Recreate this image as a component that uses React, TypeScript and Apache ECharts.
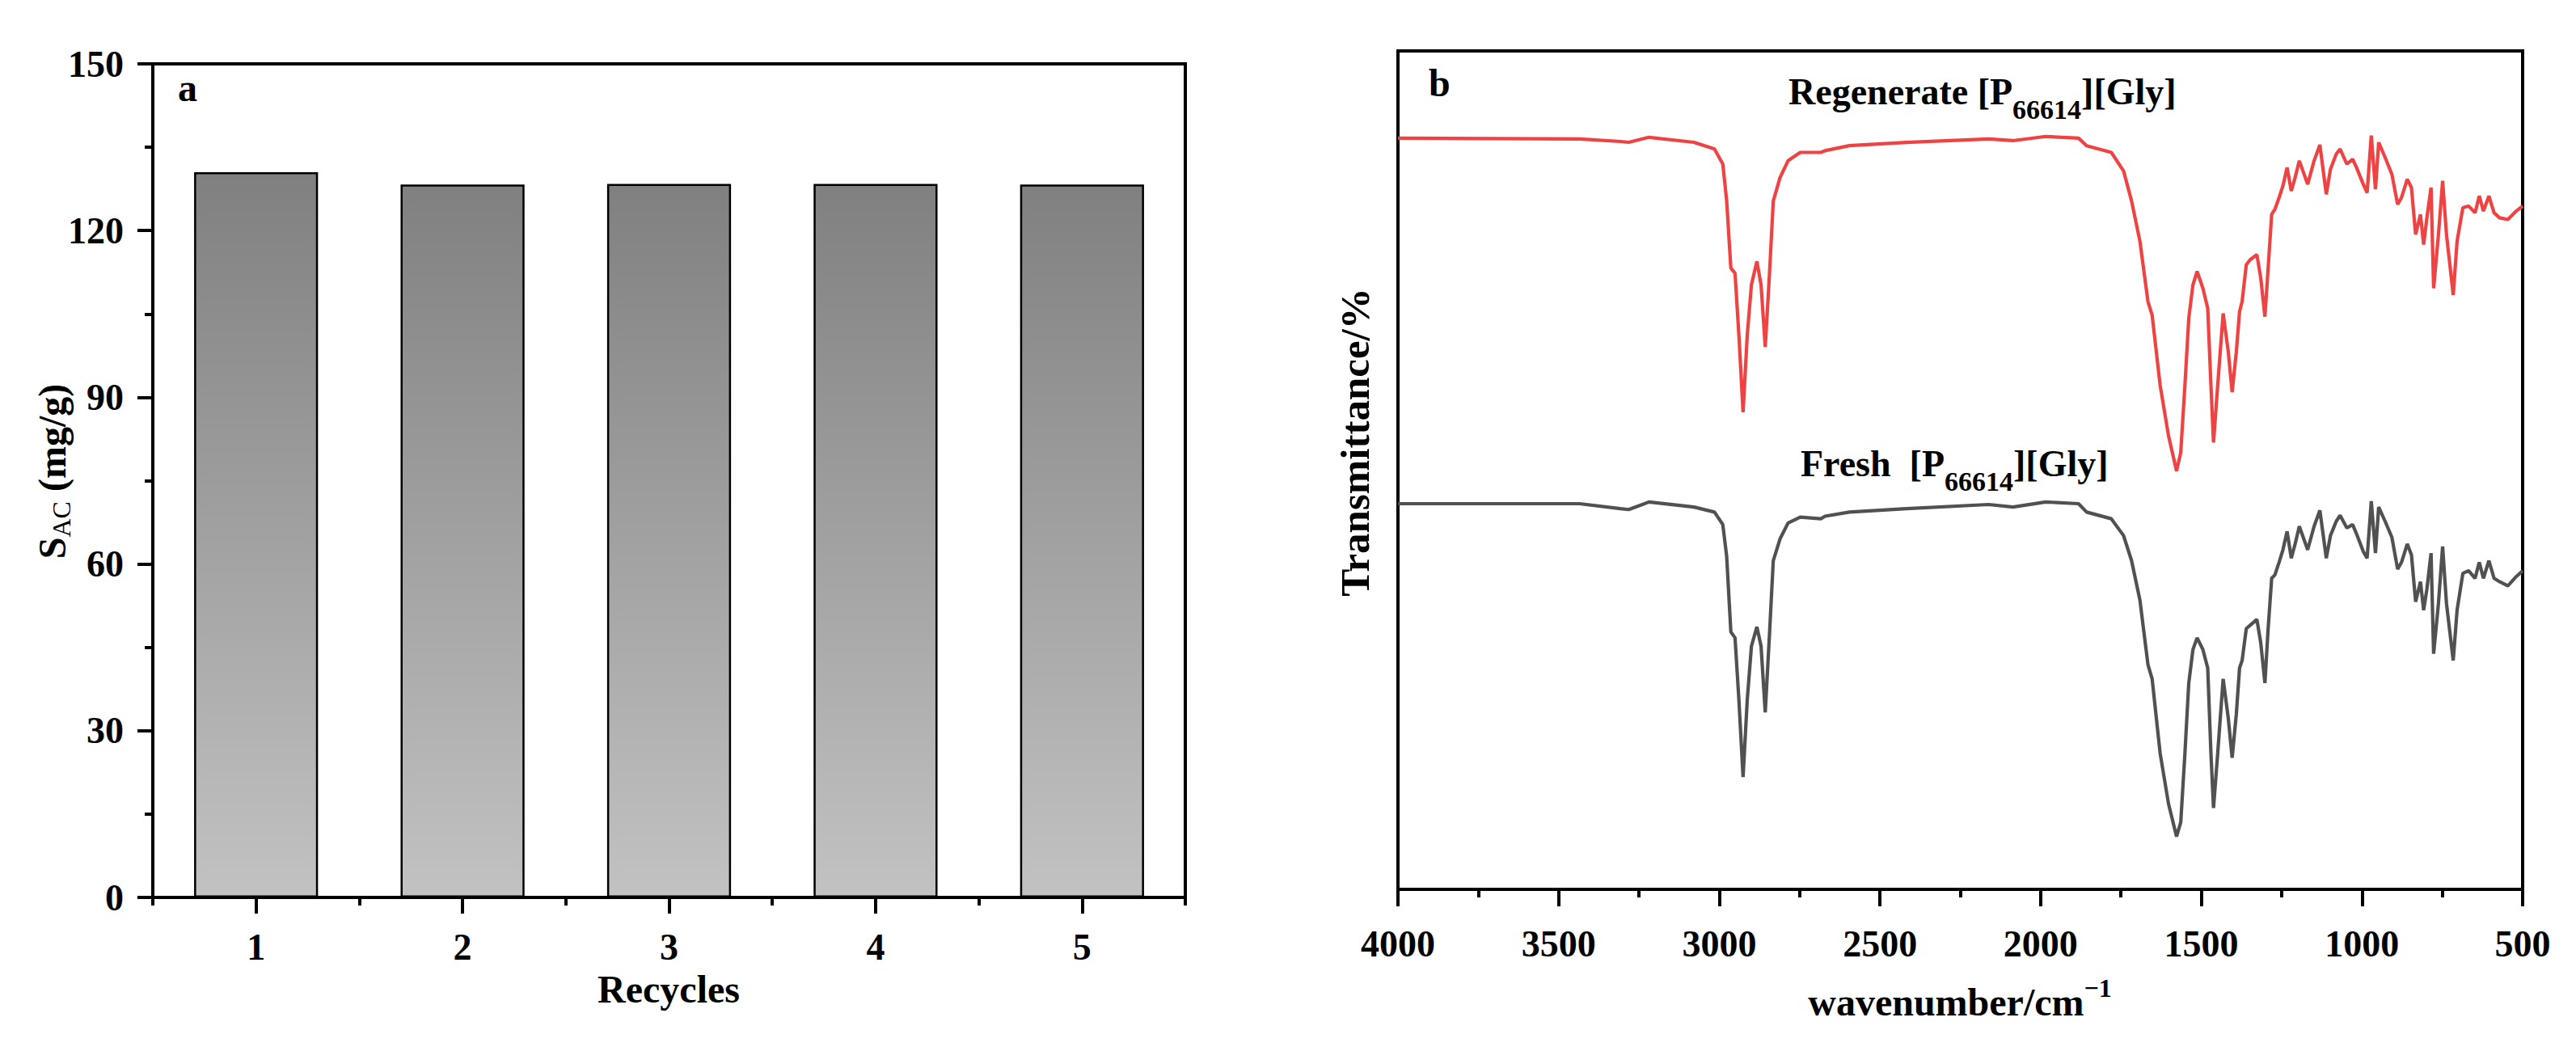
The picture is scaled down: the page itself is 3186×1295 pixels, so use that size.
import React, { useEffect, useRef } from "react";
import * as echarts from "echarts";

// ---------- data ----------
const recycleCategories = ["1", "2", "3", "4", "5"];
const sacValues = [130.5, 128.3, 128.4, 128.4, 128.3];

const wavenumbers = [
  4000, 3435, 3308, 3282, 3219, 3079, 3015, 2989, 2977, 2964, 2951, 2939, 2926, 2913, 2900, 2883, 2870, 2857,
  2844, 2832, 2811, 2786, 2748, 2684, 2671, 2595, 2417, 2162, 2086, 1984, 1882, 1857, 1780, 1742, 1717, 1691,
  1666, 1653, 1628, 1602, 1577, 1564, 1551, 1539, 1526, 1513, 1495, 1480, 1470, 1462, 1449, 1432, 1416, 1404,
  1391, 1381, 1373, 1360, 1348, 1327, 1315, 1302, 1292, 1281, 1271, 1258, 1246, 1233, 1220, 1208, 1195, 1169,
  1149, 1131, 1111, 1098, 1080, 1068, 1047, 1029, 1017, 996, 984, 971, 958, 948, 928, 907, 889, 877, 859, 846,
  833, 818, 808, 798, 785, 777, 762, 749, 737, 716, 704, 686, 668, 648, 635, 622, 605, 589, 572, 546, 520, 500,
];

const regenerateT = [
  89.6, 89.5, 89.2, 89.1, 89.7, 89.1, 88.3, 86.5, 82.1, 74.1, 73.5, 66.1, 56.9, 66.1, 72.1, 74.9, 72.1, 64.7,
  73.3, 82.1, 84.9, 86.9, 87.9, 87.9, 88.1, 88.7, 89.1, 89.5, 89.3, 89.8, 89.6, 88.7, 87.9, 85.7, 82.1, 77.3,
  70.1, 68.5, 60.1, 54.1, 49.9, 52.1, 60.1, 68.1, 72.1, 73.7, 71.7, 69.3, 60.1, 53.3, 60.1, 68.7, 64.1, 59.3,
  64.1, 68.9, 70.1, 74.5, 75.1, 75.7, 72.9, 68.3, 74.1, 80.5, 81.1, 82.5, 83.9, 86.1, 83.3, 84.9, 86.9, 84.1,
  86.9, 88.8, 82.9, 85.9, 87.7, 88.3, 86.5, 87.1, 86.1, 84.1, 83.1, 89.9, 83.5, 89.1, 87.3, 85.3, 81.7, 82.5,
  84.7, 83.7, 78.1, 80.5, 76.9, 80.1, 83.7, 71.7, 78.1, 84.5, 78.1, 70.9, 77.3, 81.3, 81.5, 80.7, 82.7, 80.9,
  82.7, 80.7, 80.1, 79.9, 80.9, 81.5,
];

const freshT = [
  46.0, 46.0, 45.4, 45.3, 46.2, 45.6, 45.0, 43.5, 39.7, 30.7, 30.0, 22.6, 13.4, 22.6, 29.0, 31.3, 29.0, 21.1,
  30.3, 39.2, 41.8, 43.7, 44.4, 44.2, 44.5, 45.0, 45.4, 45.9, 45.6, 46.2, 46.0, 45.0, 44.2, 42.2, 39.2, 34.5,
  26.8, 25.1, 16.2, 10.2, 6.3, 8.0, 16.2, 24.6, 28.6, 30.0, 28.6, 26.4, 16.2, 9.7, 16.2, 25.1, 20.4, 15.7,
  20.9, 26.4, 27.3, 31.1, 31.5, 32.2, 29.4, 24.6, 31.1, 37.1, 37.5, 39.0, 40.5, 42.7, 39.5, 41.2, 43.3, 40.5,
  43.3, 45.2, 39.5, 42.2, 43.9, 44.6, 43.1, 43.5, 42.4, 40.3, 39.5, 46.3, 40.1, 45.6, 43.9, 42.0, 38.2, 39.0,
  41.2, 39.9, 34.3, 36.7, 33.3, 35.8, 40.1, 28.1, 34.1, 40.9, 34.1, 27.3, 33.3, 37.7, 38.0, 37.1, 39.0, 37.1,
  39.2, 37.1, 36.7, 36.2, 37.3, 38.0,
];

const FONT = '"Liberation Serif", "Times New Roman", serif';
const RED = "#ef4343";
const GRAY = "#515151";

type Part = { t: string; size: number; bold: boolean; dy: number; gapBefore?: number };

function makeMeasurer() {
  const ctx = document.createElement("canvas").getContext("2d") as CanvasRenderingContext2D;
  return (t: string, size: number, bold: boolean) => {
    ctx.font = `${bold ? "bold " : ""}${size}px "Liberation Serif"`;
    return ctx.measureText(t).width;
  };
}

function buildParts(parts: Part[], mw: (t: string, s: number, b: boolean) => number, x0: number, yc: number) {
  const out: any[] = [];
  let cx = x0;
  parts.forEach((p) => {
    cx += p.gapBefore || 0;
    out.push({
      type: "text",
      x: cx,
      y: yc + p.dy,
      style: {
        text: p.t,
        fontFamily: FONT,
        fontSize: p.size,
        fontWeight: p.bold ? "bold" : "normal",
        fill: "#000",
        align: "left",
        verticalAlign: "middle",
      },
    });
    cx += mw(p.t, p.size, p.bold);
  });
  return { els: out, width: cx - x0 };
}

export default function App() {
  const ref = useRef<HTMLDivElement>(null);

  useEffect(() => {
    if (!ref.current) return;
    const chart = echarts.init(ref.current, undefined, { renderer: "svg" });
    const mw = makeMeasurer();

    const regenParts: Part[] = [
      { t: "Regenerate [P", size: 46, bold: true, dy: 0 },
      { t: "66614", size: 34, bold: true, dy: 22 },
      { t: "][Gly]", size: 46, bold: true, dy: 0 },
    ];
    const freshParts: Part[] = [
      { t: "Fresh", size: 46, bold: true, dy: 0 },
      { t: "[P", size: 46, bold: true, dy: 0, gapBefore: mw("  ", 46, true) },
      { t: "66614", size: 34, bold: true, dy: 22 },
      { t: "][Gly]", size: 46, bold: true, dy: 0 },
    ];
    const regen = buildParts(regenParts, mw, 2212, 113);
    const fresh = buildParts(freshParts, mw, 2227, 573);

    const waveParts: Part[] = [
      { t: "wavenumber/cm", size: 48, bold: true, dy: 0 },
      { t: "\u22121", size: 32, bold: true, dy: -17 },
    ];
    const waveW = buildParts(waveParts, mw, 0, 0).width;
    const wave = buildParts(waveParts, mw, 2424 - waveW / 2, 1239);

    const sacParts: Part[] = [
      { t: "S", size: 48, bold: true, dy: 0 },
      { t: "AC", size: 32, bold: false, dy: 12 },
      { t: " (mg/g)", size: 48, bold: true, dy: 0 },
    ];
    const sacW = buildParts(sacParts, mw, 0, 0).width;
    const sac = buildParts(sacParts, mw, -sacW / 2, 0);

    const axisLine = { show: true, lineStyle: { color: "#000", width: 4 } };
    const tickLabel = { fontFamily: FONT, fontSize: 46, fontWeight: "bold", color: "#000" };

    chart.setOption({
      animation: false,
      backgroundColor: "#fff",
      grid: [
        { left: 189, top: 79, width: 1277, height: 1031, show: true, borderColor: "#000", borderWidth: 4, backgroundColor: "transparent" },
        { left: 189, top: 79, width: 1277, height: 1031, show: false },
        { left: 1729, top: 63, width: 1391, height: 1037, show: true, borderColor: "#000", borderWidth: 4, backgroundColor: "transparent" },
      ],
      xAxis: [
        {
          type: "category",
          gridIndex: 0,
          data: recycleCategories,
          axisLine,
          axisTick: { show: true, alignWithLabel: true, length: 20, lineStyle: { color: "#000", width: 4 } },
          axisLabel: { ...tickLabel, margin: 38 },
          splitLine: { show: false },
        },
        {
          type: "category",
          gridIndex: 1,
          data: recycleCategories,
          axisLine: { show: false },
          axisTick: { show: true, alignWithLabel: false, length: 10, lineStyle: { color: "#000", width: 4 } },
          axisLabel: { show: false },
          splitLine: { show: false },
        },
        {
          type: "value",
          gridIndex: 2,
          inverse: true,
          min: 500,
          max: 4000,
          interval: 500,
          axisLine,
          axisTick: { show: true, length: 21, lineStyle: { color: "#000", width: 4 } },
          minorTick: { show: true, splitNumber: 2, length: 10, lineStyle: { color: "#000", width: 4 } },
          axisLabel: { ...tickLabel, margin: 44, showMinLabel: true, showMaxLabel: true, formatter: (v: number) => String(v) },
          splitLine: { show: false },
          minorSplitLine: { show: false },
        },
      ],
      yAxis: [
        {
          type: "value",
          gridIndex: 0,
          min: 0,
          max: 150,
          interval: 30,
          axisLine,
          axisTick: { show: true, length: 19, lineStyle: { color: "#000", width: 4 } },
          minorTick: { show: true, splitNumber: 2, length: 10, lineStyle: { color: "#000", width: 4 } },
          axisLabel: { ...tickLabel, margin: 36 },
          splitLine: { show: false },
          minorSplitLine: { show: false },
        },
        { type: "value", gridIndex: 1, show: false, min: 0, max: 150 },
        {
          type: "value",
          gridIndex: 2,
          min: 0,
          max: 100,
          axisLine,
          axisTick: { show: false },
          axisLabel: { show: false },
          splitLine: { show: false },
        },
      ],
      series: [
        {
          type: "bar",
          xAxisIndex: 0,
          yAxisIndex: 0,
          data: sacValues,
          barWidth: "60%",
          itemStyle: {
            color: new echarts.graphic.LinearGradient(0, 0, 0, 1, [
              { offset: 0, color: "#808080" },
              { offset: 1, color: "#c2c2c2" },
            ]),
            borderColor: "#000",
            borderWidth: 2.5,
          },
        },
        {
          type: "line",
          name: "Regenerate",
          xAxisIndex: 2,
          yAxisIndex: 2,
          data: wavenumbers.map((w, i) => [w, regenerateT[i]]),
          showSymbol: false,
          symbol: "none",
          lineStyle: { color: RED, width: 4.2 },
        },
        {
          type: "line",
          name: "Fresh",
          xAxisIndex: 2,
          yAxisIndex: 2,
          data: wavenumbers.map((w, i) => [w, freshT[i]]),
          showSymbol: false,
          symbol: "none",
          lineStyle: { color: GRAY, width: 4.2 },
        },
      ],
      graphic: {
        elements: [
          {
            type: "text",
            x: 220,
            y: 108,
            style: { text: "a", fontFamily: FONT, fontSize: 48, fontWeight: "bold", fill: "#000", align: "left", verticalAlign: "middle" },
          },
          {
            type: "text",
            x: 1767,
            y: 102,
            style: { text: "b", fontFamily: FONT, fontSize: 48, fontWeight: "bold", fill: "#000", align: "left", verticalAlign: "middle" },
          },
          {
            type: "text",
            x: 827,
            y: 1223,
            style: { text: "Recycles", fontFamily: FONT, fontSize: 48, fontWeight: "bold", fill: "#000", align: "center", verticalAlign: "middle" },
          },
          {
            type: "text",
            x: 1676,
            y: 547,
            rotation: Math.PI / 2,
            style: { text: "Transmittance/%", fontFamily: FONT, fontSize: 51, fontWeight: "bold", fill: "#000", align: "center", verticalAlign: "middle" },
          },
          {
            type: "group",
            x: 64,
            y: 583,
            rotation: Math.PI / 2,
            children: sac.els,
          },
          ...regen.els,
          ...fresh.els,
          ...wave.els,
        ],
      },
    });

    return () => chart.dispose();
  }, []);

  return (
    <div
      ref={ref}
      style={{ position: "fixed", left: 0, top: 0, width: 3186, height: 1295, background: "#fff" }}
    />
  );
}
